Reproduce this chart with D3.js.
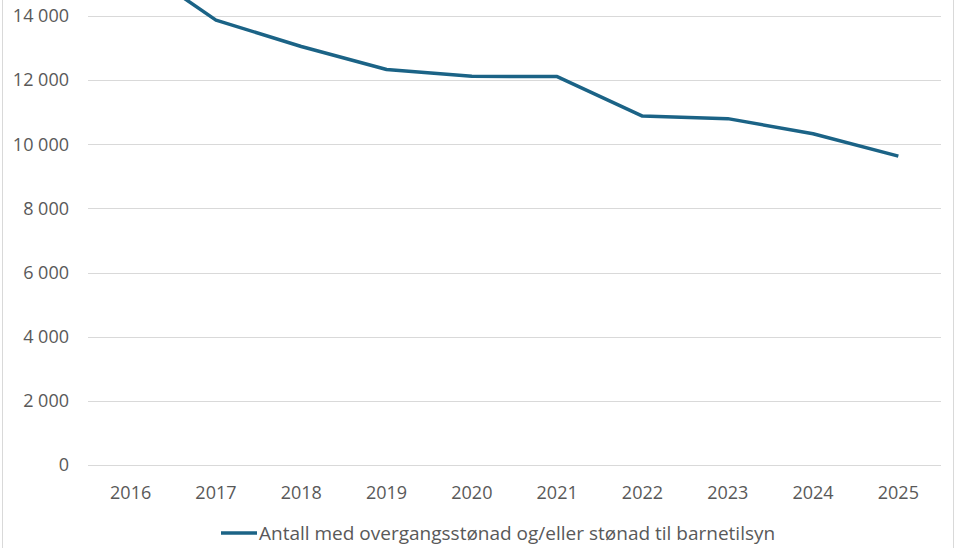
<!DOCTYPE html>
<html>
<head>
<meta charset="utf-8">
<script src="https://cdn.jsdelivr.net/npm/d3@7"></script>
<style>
  body { margin: 0; background: #fff; }
  text { font-family: "Open Sans", sans-serif; fill: #595959; }
</style>
</head>
<body>
<div id="chart"></div>
<script>
// data
const years = ["2016", "2017", "2018", "2019", "2020", "2021", "2022", "2023", "2024", "2025"];
const antall = [15700, 13870, 13050, 12330, 12120, 12110, 10880, 10800, 10330, 9630];
const yTicks = [0, 2000, 4000, 6000, 8000, 10000, 12000, 14000];
const seriesName = "Antall med overgangsstønad og/eller stønad til barnetilsyn";

const width = 960, height = 548;
const margin = {left: 88, right: 19, top: 16, bottom: 83};

const svg = d3.select("#chart")
  .append("svg")
    .attr("width", width)
    .attr("height", height);

// outer chart border (cropped at top/bottom)
svg.append("rect")
  .attr("x", 2.5)
  .attr("y", -10)
  .attr("width", 951)
  .attr("height", height + 20)
  .attr("fill", "none")
  .attr("stroke", "#d9d9d9")
  .attr("stroke-width", 1);

const nb = d3.formatLocale({decimal: ",", thousands: "\u00a0", grouping: [3], currency: ["", " kr"]});
const fmt = nb.format(",d");

const x = d3.scaleBand()
  .domain(years)
  .range([margin.left, width - margin.right]);

const y = d3.scaleLinear()
  .domain([0, 14000])
  .range([height - margin.bottom, margin.top]);

// gridlines
svg.append("g")
  .selectAll("line")
  .data(yTicks)
  .join("line")
    .attr("x1", margin.left)
    .attr("x2", width - margin.right)
    .attr("y1", d => Math.round(y(d)) + 0.5)
    .attr("y2", d => Math.round(y(d)) + 0.5)
    .attr("stroke", "#d9d9d9")
    .attr("stroke-width", 1);

// y labels
svg.append("g")
  .selectAll("text")
  .data(yTicks)
  .join("text")
    .attr("x", 69)
    .attr("y", d => y(d))
    .attr("dy", "0.35em")
    .attr("text-anchor", "end")
    .style("font-size", "18px")
    .text(d => fmt(d));

// x labels
svg.append("g")
  .selectAll("text")
  .data(years)
  .join("text")
    .attr("x", d => x(d) + x.bandwidth() / 2)
    .attr("y", 499)
    .attr("text-anchor", "middle")
    .style("font-size", "18px")
    .text(d => d);

// the line
const line = d3.line()
  .x((d, i) => x(years[i]) + x.bandwidth() / 2)
  .y(d => y(d));

svg.append("path")
  .datum(antall)
  .attr("d", line)
  .attr("fill", "none")
  .attr("stroke", "#1b6386")
  .attr("stroke-width", 3.5)
  .attr("stroke-linejoin", "round");

// legend
svg.append("line")
  .attr("x1", 221)
  .attr("x2", 257)
  .attr("y1", 533)
  .attr("y2", 533)
  .attr("stroke", "#1b6386")
  .attr("stroke-width", 3.5);

svg.append("text")
  .attr("x", 259)
  .attr("y", 540)
  .style("font-size", "19px")
  .text(seriesName);
</script>
</body>
</html>
